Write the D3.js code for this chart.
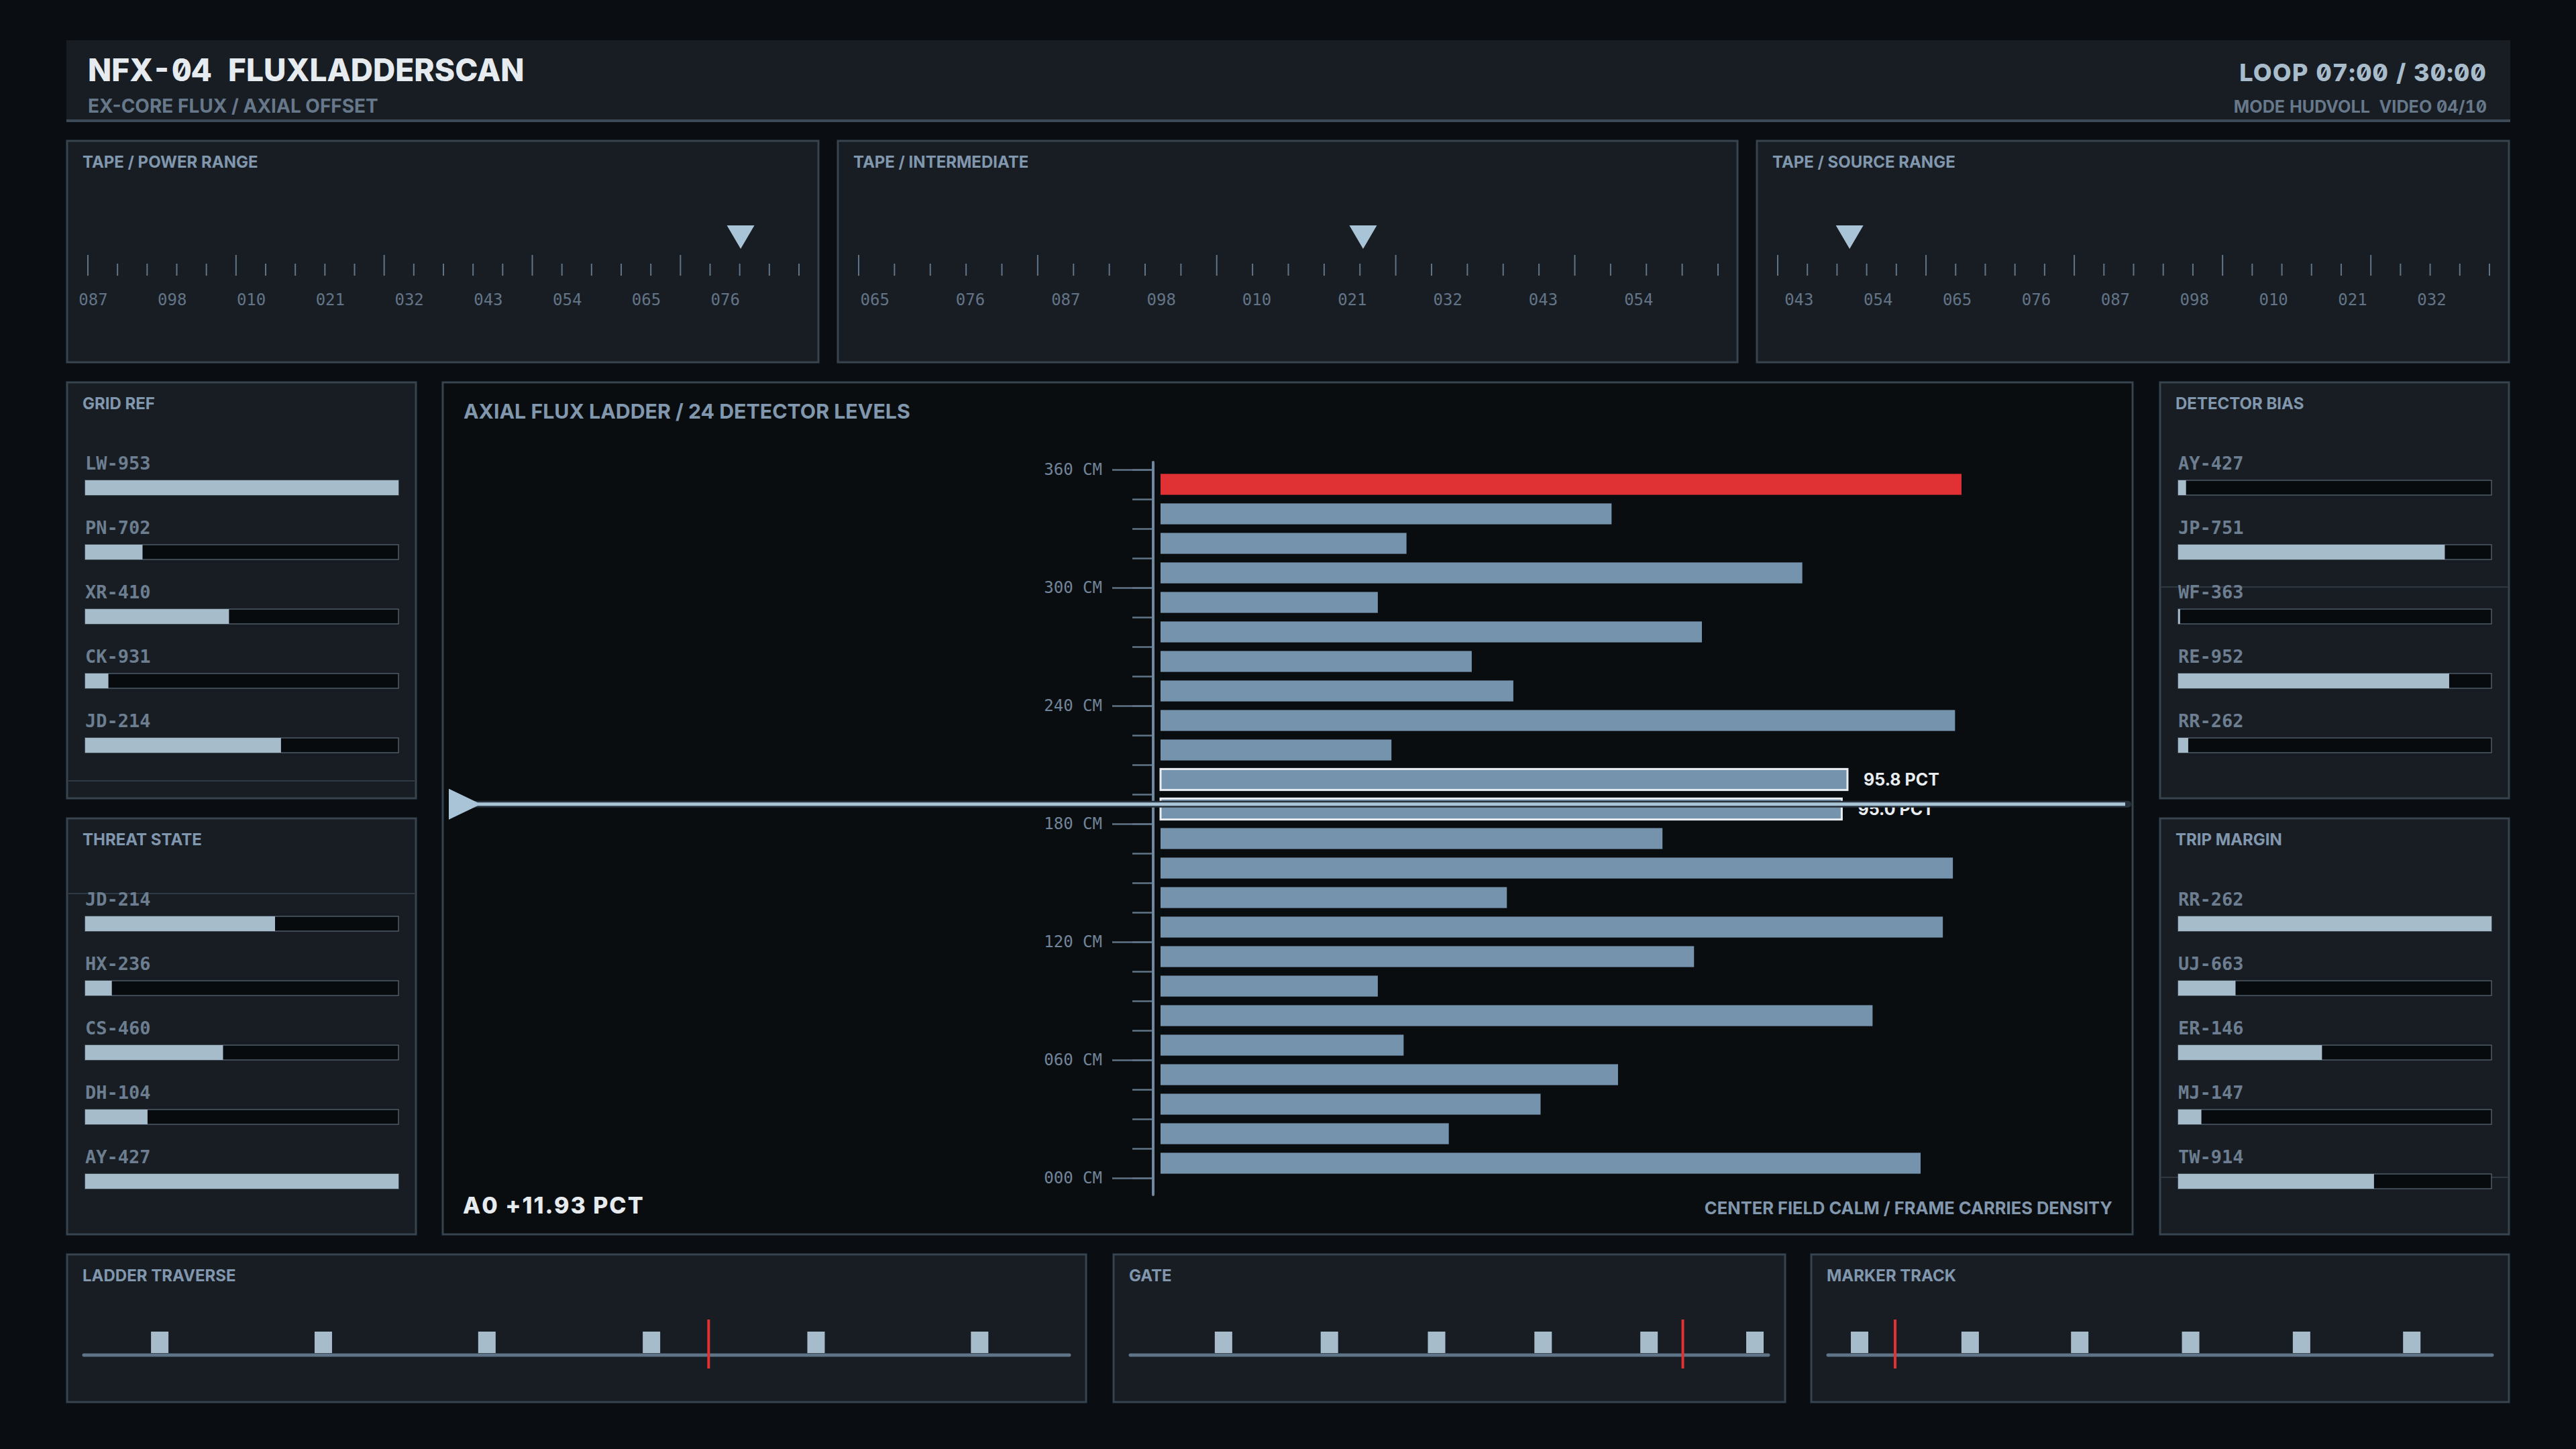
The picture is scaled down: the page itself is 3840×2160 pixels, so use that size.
<!DOCTYPE html>
<html>
<head>
<meta charset="utf-8">
<script src="https://cdn.jsdelivr.net/npm/d3@7"></script>
<style>
  html, body { margin: 0; padding: 0; background: #0a0e12; }
  svg text { font-family: "DejaVu Sans Mono", monospace; }
  svg text.sans { font-family: Inter, "DejaVu Sans", sans-serif; }
  svg text.zero { font-feature-settings: "zero" 1, "tnum" 1; }
</style>
</head>
<body>
<svg id="hud"></svg>
<script>
// --- data ---

const tapeTitles = ["TAPE / POWER RANGE", "TAPE / INTERMEDIATE", "TAPE / SOURCE RANGE"];
const tapeLabels = [
  ["087", "098", "010", "021", "032", "043", "054", "065", "076"],
  ["065", "076", "087", "098", "010", "021", "032", "043", "054"],
  ["043", "054", "065", "076", "087", "098", "010", "021", "032"]
];
const tapePointers = [0.918, 0.587, 0.101];
const tapeLabelPhase = [0.068, 0.17, 0.27];

const gridRefNames = ["LW-953", "PN-702", "XR-410", "CK-931", "JD-214"];
const gridRefValues = [1.0, 0.183, 0.459, 0.074, 0.625];
const threatNames = ["JD-214", "HX-236", "CS-460", "DH-104", "AY-427"];
const threatValues = [0.606, 0.085, 0.44, 0.199, 1.0];
const biasNames = ["AY-427", "JP-751", "WF-363", "RE-952", "RR-262"];
const biasValues = [0.025, 0.851, 0.006, 0.865, 0.032];
const tripNames = ["RR-262", "UJ-663", "ER-146", "MJ-147", "TW-914"];
const tripValues = [1.0, 0.183, 0.459, 0.074, 0.625];

// flux per detector level, top (360 CM) to bottom (000 CM), in PCT
const fluxValues = [111.7, 62.9, 34.3, 89.5, 30.3, 75.5, 43.4, 49.2, 110.8, 32.2, 95.8, 95.0,
                    70.0, 110.5, 48.3, 109.1, 74.4, 30.3, 99.3, 33.9, 63.8, 53.0, 40.2, 106.0];
const highlightLevels = [10, 11];
const axisTicks = [0, 60, 120, 180, 240, 300, 360];
const cursorCm = 190;

const traverseMarks = [7.7, 24.3, 40.9, 57.6, 74.3, 90.9];
const traverseCursor = 63.4;
const gateMarks = [14.6, 31.2, 48.0, 64.7, 81.3, 97.9];
const gateCursor = 86.6;
const markerMarks = [4.75, 21.4, 37.9, 54.6, 71.3, 87.9];
const markerCursor = 10.1;

// --- styling ---
const C = {
  bg: "#0a0e12",
  panel: "#181d24",
  well: "#0a0d10",
  border: "#37434f",
  title: "#e6ebef",
  soft: "#a9bccb",
  dim: "#66788a",
  head: "#8097ad",
  tick: "#5f7486",
  bar: "#7693ad",
  fill: "#a7bccb",
  red: "#e03234",
  white: "#e8edf1"
};

const W = 3840, H = 2160;
const svg = d3.select("#hud")
  .attr("width", W)
  .attr("height", H)
  .attr("viewBox", `0 0 ${W} ${H}`);

svg.append("rect").attr("width", W).attr("height", H).attr("fill", C.bg);

function panel(x, y, w, h, fill) {
  svg.append("rect")
    .attr("x", x).attr("y", y).attr("width", w).attr("height", h)
    .attr("fill", fill || C.panel)
    .attr("stroke", C.border).attr("stroke-width", 3);
}

function panelTitle(x, y, txt) {
  svg.append("text")
    .attr("class", "sans")
    .attr("x", x + 23).attr("y", y + 40)
    .attr("fill", C.head)
    .attr("font-size", 24).attr("font-weight", 700)
    .text(txt);
}

// --- header ---
svg.append("rect").attr("x", 99).attr("y", 60).attr("width", 3643).attr("height", 122).attr("fill", C.panel);
svg.append("rect").attr("x", 99).attr("y", 178).attr("width", 3643).attr("height", 4).attr("fill", "#3d4a57");

svg.append("text")
  .attr("class", "sans zero")
  .attr("x", 131).attr("y", 121)
  .attr("fill", C.title).attr("font-size", 46).attr("font-weight", 800)
  .attr("xml:space", "preserve")
  .text("NFX-04  FLUXLADDERSCAN");

svg.append("text")
  .attr("class", "sans")
  .attr("x", 131).attr("y", 168)
  .attr("fill", C.dim).attr("font-size", 28).attr("font-weight", 700)
  .text("EX-CORE FLUX / AXIAL OFFSET");

svg.append("text")
  .attr("class", "sans zero")
  .attr("x", 3707).attr("y", 121).attr("text-anchor", "end")
  .attr("fill", C.soft).attr("font-size", 36).attr("font-weight", 800)
  .attr("letter-spacing", 1.2)
  .text("LOOP 07:00 / 30:00");

svg.append("text")
  .attr("class", "sans zero")
  .attr("x", 3707).attr("y", 168).attr("text-anchor", "end")
  .attr("fill", C.dim).attr("font-size", 25.2).attr("font-weight", 700)
  .attr("xml:space", "preserve")
  .text("MODE HUDVOLL  VIDEO 04/10");

// --- tapes ---
const tapeBoxes = [{x: 100, w: 1120}, {x: 1249, w: 1341}, {x: 2619, w: 1121}];
const tapeY = 210, tapeH = 330;

tapeBoxes.forEach((b, k) => {
  panel(b.x, tapeY, b.w, tapeH);
  panelTitle(b.x, tapeY, tapeTitles[k]);

  const x0 = b.x + 31, x1 = b.x + b.w - 29;
  const tx = d3.scaleLinear().domain([0, 24]).range([x0, x1]);
  const g = svg.append("g");

  g.selectAll("line")
    .data(d3.range(25))
    .enter().append("line")
    .attr("x1", d => tx(d)).attr("x2", d => tx(d))
    .attr("y1", d => d % 5 === 0 ? tapeY + 170 : tapeY + 183)
    .attr("y2", tapeY + 201)
    .attr("stroke", C.tick).attr("stroke-width", 2);

  const lx = d3.scaleLinear().domain([0, 9]).range([x0, x1]);
  g.selectAll("text")
    .data(tapeLabels[k])
    .enter().append("text")
    .attr("x", (d, i) => lx(i + tapeLabelPhase[k]))
    .attr("y", tapeY + 245)
    .attr("text-anchor", "middle")
    .attr("fill", "#627486").attr("font-size", 24)
    .text(d => d);

  const px = d3.scaleLinear().domain([0, 1]).range([x0, x1])(tapePointers[k]);
  g.append("path")
    .attr("d", `M${px - 20.5},${tapeY + 126} L${px + 20.5},${tapeY + 126} L${px},${tapeY + 161} Z`)
    .attr("fill", "#a9c4d6");
});

// --- side bar panels ---
const sideW = 520, sideH = 620;

function barPanel(x, y, title, names, values, scanY) {
  panel(x, y, sideW, sideH);
  panelTitle(x, y, title);
  if (scanY) {
    svg.append("line")
      .attr("x1", x + 2).attr("x2", x + sideW - 2)
      .attr("y1", scanY).attr("y2", scanY)
      .attr("stroke", C.border).attr("stroke-width", 1.5);
  }
  const sx = d3.scaleLinear().domain([0, 1]).range([x + 27, x + sideW - 26]);
  const rows = svg.append("g").selectAll("g")
    .data(names.map((n, i) => ({name: n, value: values[i]})))
    .enter().append("g")
    .attr("transform", (d, i) => `translate(0,${y + 130 + i * 96})`);

  rows.append("text")
    .attr("x", x + 27).attr("y", 0)
    .attr("fill", "#6c7e90").attr("font-size", 27).attr("font-weight", "bold")
    .text(d => d.name);

  rows.append("rect")
    .attr("x", sx(0)).attr("y", 16)
    .attr("width", sx(1) - sx(0)).attr("height", 22)
    .attr("fill", "#080b0e").attr("stroke", "#4d5b68").attr("stroke-width", 1.5);

  rows.append("rect")
    .attr("x", sx(0)).attr("y", 16)
    .attr("width", d => sx(d.value) - sx(0)).attr("height", 22)
    .attr("fill", C.fill);
}

barPanel(100, 570, "GRID REF", gridRefNames, gridRefValues, 1164);
barPanel(100, 1220, "THREAT STATE", threatNames, threatValues, 1332);
barPanel(3220, 570, "DETECTOR BIAS", biasNames, biasValues, 875);
barPanel(3220, 1220, "TRIP MARGIN", tripNames, tripValues, 1755);

// --- center flux ladder ---
const cx = 660, cy = 570, cw = 2519, ch = 1270;
panel(cx, cy, cw, ch, C.well);

svg.append("text")
  .attr("class", "sans")
  .attr("x", 691).attr("y", 624)
  .attr("fill", C.head).attr("font-size", 30.3).attr("font-weight", 700)
  .text("AXIAL FLUX LADDER / 24 DETECTOR LEVELS");

const yScale = d3.scaleLinear().domain([0, 360]).range([1756, 700]);
const band = d3.scaleBand()
  .domain(fluxValues.map((v, i) => i))
  .range([700, 1756])
  .paddingInner(0.29)
  .paddingOuter(0.145);
const xScale = d3.scaleLinear().domain([0, 135]).range([1730, 3173]);

const axisX = 1717;
svg.append("g")
  .attr("transform", `translate(${axisX},0)`)
  .call(d3.axisLeft(yScale).tickValues(d3.range(0, 361, 15)).tickSize(29).tickFormat(""))
  .call(g => g.select(".domain").remove())
  .call(g => g.selectAll("line").attr("stroke", C.tick).attr("stroke-width", 2.5));

svg.append("g")
  .attr("transform", `translate(${axisX},0)`)
  .call(d3.axisLeft(yScale).tickValues(axisTicks).tickSize(59).tickPadding(15)
    .tickFormat(d => String(d).padStart(3, "0") + " CM"))
  .call(g => g.select(".domain").remove())
  .call(g => g.selectAll("line").attr("stroke", C.tick).attr("stroke-width", 2.5))
  .call(g => g.selectAll("text")
    .attr("fill", "#71849a").attr("font-size", 24)
    .attr("font-family", "DejaVu Sans Mono, monospace"));

svg.append("line")
  .attr("x1", axisX + 2).attr("x2", axisX + 2)
  .attr("y1", yScale(360) - 11).attr("y2", yScale(0) + 25)
  .attr("stroke", "#6f87a0").attr("stroke-width", 4).attr("stroke-linecap", "round");

const maxFlux = d3.max(fluxValues);
svg.append("g").selectAll("rect")
  .data(fluxValues)
  .enter().append("rect")
  .attr("x", xScale(0))
  .attr("y", (d, i) => band(i))
  .attr("width", d => xScale(d) - xScale(0))
  .attr("height", band.bandwidth())
  .attr("fill", d => d === maxFlux ? C.red : C.bar)
  .attr("stroke", (d, i) => highlightLevels.includes(i) ? C.white : "none")
  .attr("stroke-width", 3);

svg.append("g").selectAll("text")
  .data(highlightLevels)
  .enter().append("text")
  .attr("class", "sans")
  .attr("x", i => xScale(fluxValues[i]) + 24)
  .attr("y", i => band(i) + band.bandwidth() / 2)
  .attr("dy", "0.36em")
  .attr("fill", C.white).attr("font-size", 25).attr("font-weight", 700)
  .text(i => fluxValues[i].toFixed(1) + " PCT");

// axial offset cursor
const cyLine = yScale(cursorCm);
svg.append("line")
  .attr("x1", 690).attr("x2", 3172).attr("y1", cyLine).attr("y2", cyLine)
  .attr("stroke", "#27313b").attr("stroke-width", 10).attr("stroke-linecap", "round");
svg.append("line")
  .attr("x1", 690).attr("x2", 3168).attr("y1", cyLine).attr("y2", cyLine)
  .attr("stroke", "#a9c4d6").attr("stroke-width", 5);
svg.append("path")
  .attr("d", `M669,${cyLine - 23} L717,${cyLine} L669,${cyLine + 23} Z`)
  .attr("fill", "#a9c4d6");

svg.append("text")
  .attr("class", "sans")
  .attr("x", 690).attr("y", 1809)
  .attr("fill", C.title).attr("font-size", 34).attr("font-weight", 800)
  .attr("letter-spacing", 2)
  .text("A0 +11.93 PCT");

svg.append("text")
  .attr("class", "sans")
  .attr("x", 3149).attr("y", 1810).attr("text-anchor", "end")
  .attr("fill", C.head).attr("font-size", 25.5).attr("font-weight", 700)
  .text("CENTER FIELD CALM / FRAME CARRIES DENSITY");

// --- bottom tracks ---
const trackY = 1870, trackH = 220;
const tracks = [
  {x: 100, w: 1519, title: "LADDER TRAVERSE", marks: traverseMarks, cursor: traverseCursor},
  {x: 1660, w: 1001, title: "GATE", marks: gateMarks, cursor: gateCursor},
  {x: 2700, w: 1040, title: "MARKER TRACK", marks: markerMarks, cursor: markerCursor}
];

tracks.forEach(t => {
  panel(t.x, trackY, t.w, trackH);
  panelTitle(t.x, trackY, t.title);
  const sx = d3.scaleLinear().domain([0, 100]).range([t.x + 25, t.x + t.w - 25]);
  const g = svg.append("g");

  g.append("line")
    .attr("x1", sx(0)).attr("x2", sx(100))
    .attr("y1", trackY + 150).attr("y2", trackY + 150)
    .attr("stroke", C.tick).attr("stroke-width", 5).attr("stroke-linecap", "round");

  g.selectAll("rect")
    .data(t.marks)
    .enter().append("rect")
    .attr("x", d => sx(d) - 13)
    .attr("y", trackY + 115)
    .attr("width", 26).attr("height", 32)
    .attr("fill", C.fill);

  g.append("line")
    .attr("x1", sx(t.cursor)).attr("x2", sx(t.cursor))
    .attr("y1", trackY + 97).attr("y2", trackY + 170)
    .attr("stroke", C.red).attr("stroke-width", 4);
});
</script>
</body>
</html>
